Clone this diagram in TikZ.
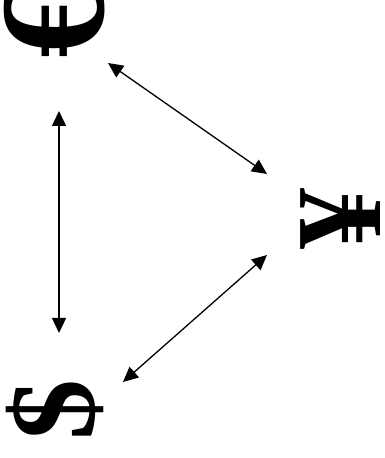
\documentclass[tikz,border=0pt]{standalone}
\usepackage{fontspec}
\setmainfont{Liberation Serif}
\usetikzlibrary{arrows.meta}
\tikzset{
  cur/.style={inner sep=0pt, outer sep=0pt, rotate=90, font=\fontsize{122}{122}\selectfont\bfseries},
  arr/.style={line width=1.3pt, {Triangle[length=15pt,width=14pt]}-{Triangle[length=15pt,width=14pt]}}
}
\begin{document}
\begin{tikzpicture}[x=1pt,y=1pt]
\useasboundingbox (0,0) rectangle (385,458);
\node[cur, font=\fontsize{150}{150}\selectfont\bfseries] (eur) at (55,437) {€};
\node[cur] (yen) at (341,239) {¥};
\node[cur] (usd) at (55,48) {\$};
\draw[arr] ([shift={(53,-42)}]eur.center) -- ([shift={(-74,45)}]yen.center);
\draw[arr] ([shift={(4,-90)}]eur.center) -- ([shift={(4,77)}]usd.center);
\draw[arr] ([shift={(68,28)}]usd.center) -- ([shift={(-74,-36)}]yen.center);
\end{tikzpicture}
\end{document}
